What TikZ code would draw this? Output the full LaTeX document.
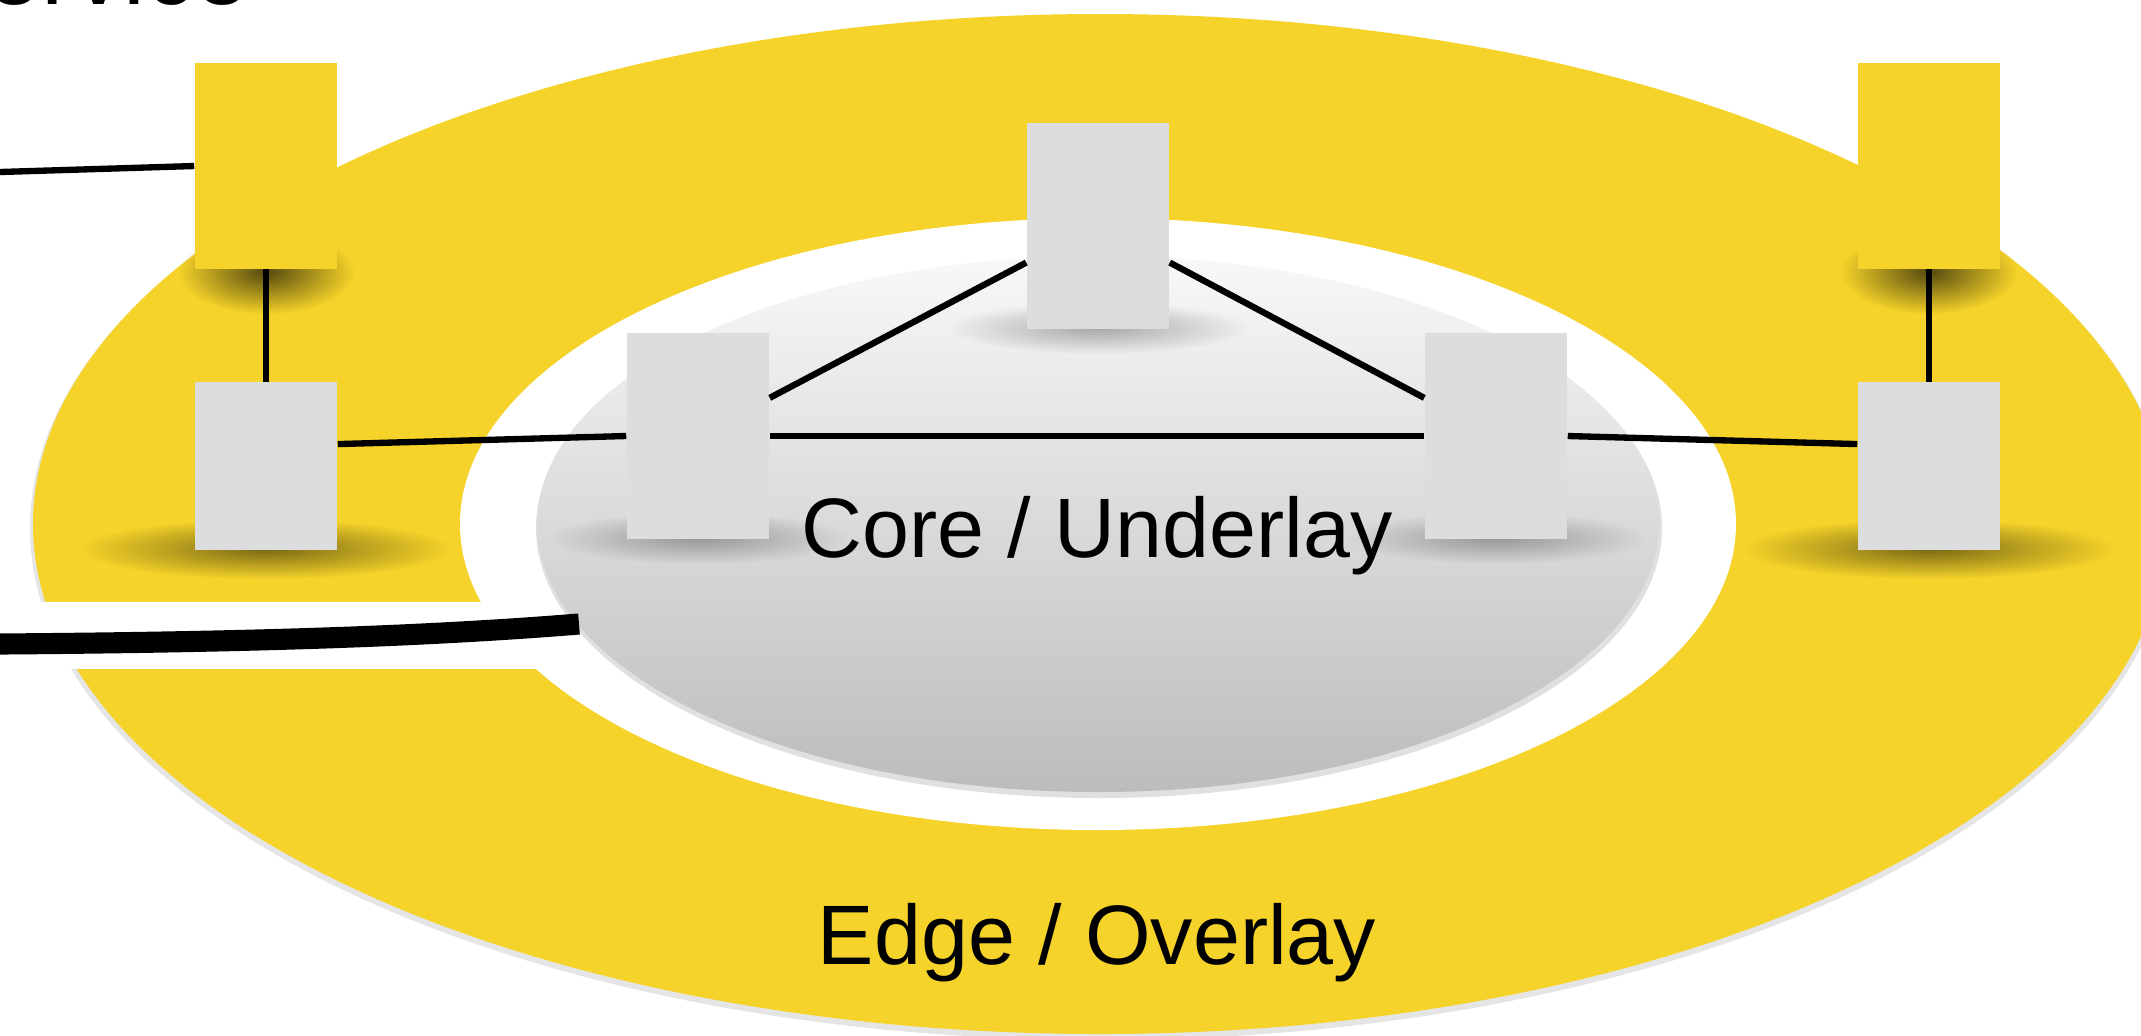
\documentclass[tikz,border=0pt]{standalone}
\usepackage{fontspec}
\setmainfont{Liberation Sans}
\usetikzlibrary{positioning, fadings, calc}

\definecolor{edgeyellow}{RGB}{245,211,42}
\definecolor{boxgray}{RGB}{220,221,223}
\definecolor{coretop}{RGB}{248,248,248}
\definecolor{corebot}{RGB}{188,188,188}

\tikzfading[name=softshadow, inner color=transparent!0, outer color=transparent!100]

\begin{document}
\begin{tikzpicture}[
    x=0.01cm, y=-0.01cm,
    nodebox/.style={inner sep=0pt, minimum width=1.42cm, minimum height=2.05cm},
    edgebox/.style={nodebox, fill=edgeyellow},
    hostbox/.style={nodebox, fill=boxgray, minimum height=1.67cm},
    corebox/.style={nodebox, fill=boxgray},
    link/.style={line width=1.8pt, black},
    cable/.style={line width=6pt, black},
    blot/.style={fill=black, path fading=softshadow},
    lbl/.style={font=\fontsize{24}{28}\selectfont, anchor=base},
]
\useasboundingbox (0,0) rectangle (2141,1035);

% ── Rings ──
\fill[black, opacity=0.1] (1100,528) ellipse [x radius=1070, y radius=512];
\fill[edgeyellow] (1100,524) ellipse [x radius=1067, y radius=510];
\fill[white] (1098,524) ellipse [x radius=638, y radius=306];
\fill[white] (0,602) rectangle (560,669);
\fill[black, opacity=0.12] (1099,528) ellipse [x radius=563, y radius=270];
\shade[top color=coretop, bottom color=corebot] (1098,524) ellipse [x radius=561, y radius=268];

% ── Shadows ──
\foreach \x in {266, 1929} {
  \fill[blot, opacity=0.65] (\x,272) ellipse [x radius=88, y radius=42];
  \fill[blot, opacity=0.5] (\x,549) ellipse [x radius=185, y radius=30];
}
\foreach \x/\y in {698/538, 1098/328, 1496/538}
  \fill[blot, opacity=0.3] (\x,\y) ellipse [x radius=150, y radius=26];

% ── Nodes ──
\node[edgebox] (yL) at (266,166) {};
\node[edgebox] (yR) at (1929,166) {};
\node[hostbox] (gL) at (266,466) {};
\node[hostbox] (gR) at (1929,466) {};

\node[corebox] (cL) at (698,436) {};
\node[corebox] (cT) at (1098,226) {};
\node[corebox] (cR) at (1496,436) {};

\coordinate (svcEnd) at (0,172);
\coordinate (cblL) at (0,644);
\coordinate (cblR) at (579,624);

% ── Links ──
\draw[link] (yL.west) -- (svcEnd);
\draw[link] (yL.south) -- (gL.north);
\draw[link] (yR.south) -- (gR.north);
\draw[link] (gL.17) -- (cL.west);
\draw[link] (cL.east) -- (cR.west);
\draw[link] (cR.east) -- (gR.163);
\draw[link] (cL.28) -- (cT.207);
\draw[link] (cT.333) -- (cR.152);
\draw[cable] (cblL) .. controls (260,642) and (430,636) .. (cblR);

% ── Labels ──
\node[lbl] (core) at (1097,557) {Core / Underlay};
\node[lbl] (edge) at (1097,964) {Edge / Overlay};
\node[lbl, anchor=base east, font=\fontsize{28}{32}\selectfont] (svc) at (262,4) {Service};

\end{tikzpicture}
\end{document}
